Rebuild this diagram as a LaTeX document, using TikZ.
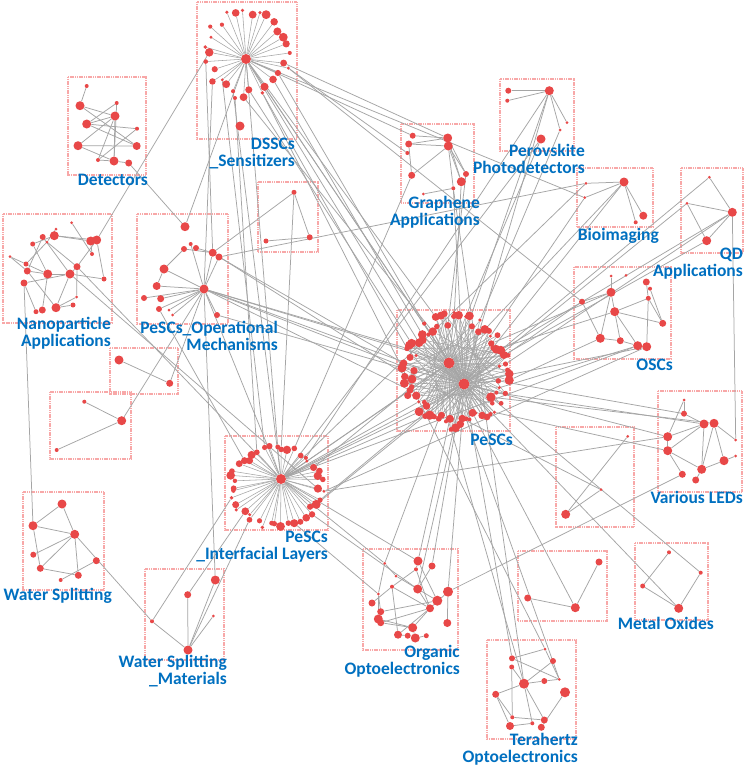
\documentclass[tikz,border=0pt]{standalone}
\usepackage{fontspec}
\newfontfamily\labfamily{Carlito}
\usetikzlibrary{backgrounds,calc}
\definecolor{dotred}{RGB}{232,72,72}
\definecolor{labblue}{RGB}{0,112,192}
\definecolor{boxred}{RGB}{248,168,168}
\definecolor{linkgray}{RGB}{165,165,165}

\begin{document}
\begin{tikzpicture}[x=1pt, y=-1pt,
    netdot/.style={circle, fill=dotred, inner sep=0pt, minimum size=#1},
    netdot/.default=5,
    link/.style={draw=linkgray, line width=0.75pt},
    spoke/.style={draw=linkgray, line width=0.55pt},
    clusterbox/.style={draw=boxred, line width=1.2pt, dash pattern=on 1.2pt off 0.6pt},
    lab/.style={font=\labfamily\bfseries\fontsize{17.5}{17}\selectfont, text=labblue,
                align=right, inner sep=0pt, anchor=base east}
]
    \useasboundingbox (0,0) rectangle (744,766);

    % Cluster frames
    \begin{pgfonlayer}{background}
    \fill[white] (0,0) rectangle (744,766);
    \foreach \xa/\ya/\xb/\yb in {197/2/297/139, 68/77/146/175, 401/124/474/203, 500/79/574/151,
        258/182/318/252, 577/168/653/227, 681/168/743/253, 3/214/112/323, 137/214/228/324,
        574/267/671/359, 397/310/510/431, 110/348/178/394, 50/392/131/459, 658/391/742/492,
        556/427/634/527, 225/436/328/530, 23/492/104/590, 145/569/224/660, 363/549/458/650,
        518/551/607/621, 635/543/708/620, 487/640/576/739}
        \draw[clusterbox] (\xa,\ya) rectangle (\xb,\yb);
    \end{pgfonlayer}

    % Radial clusters: DSSCs, PeSCs, interfacial layers
    \pgfmathsetseed{17}
    \node[netdot=10] (ds) at (246,59) {};
    \foreach \k in {1,...,30}{
        \pgfmathsetmacro\ang{12*\k+4*rand}
        \pgfmathsetmacro\rad{41+5*rand}
        \pgfmathsetmacro\sz{3+6*rnd}
        \node[netdot=\sz] (ds\k) at ($(247,53)+(\ang:\rad)$) {};
    }
    \node[netdot=9] (ds31) at (240,126) {};
    \node[netdot=4] (ds32) at (235,98) {};

    \node[netdot=11] (pe) at (449,363) {};
    \node[netdot=11] (pf) at (464,384) {};
    \foreach \k in {1,...,80}{
        \pgfmathsetmacro\ang{4.5*\k+2*rand}
        \pgfmathsetmacro\rad{1+0.13*rand}
        \pgfmathsetmacro\sz{3+6.5*rnd}
        \node[netdot=\sz] (pe\k) at ($(456,371)+({48*\rad*cos(\ang)},{52*\rad*sin(\ang)})$) {};
    }

    \node[netdot=10] (pi) at (281,479) {};
    \foreach \k in {1,...,44}{
        \pgfmathsetmacro\ang{8.18*\k+3*rand}
        \pgfmathsetmacro\rad{1+0.1*rand}
        \pgfmathsetmacro\sz{3+6*rnd}
        \node[netdot=\sz] (pi\k) at ($(276,487)+({44*\rad*cos(\ang)},{39*\rad*sin(\ang)})$) {};
    }

    % Small clusters
    \foreach \n/\x/\y/\s in {
        det1/86.7/86/4, det2/80/105.7/9, det3/116.7/103/4, det4/115/116/9, det5/86.7/124/9,
        det6/137/128.7/4, det7/78/145.7/9, det8/136.7/146/8, det9/98/160/4, det10/114/161/9,
        det11/128.7/163/7,
        gr1/412.7/135.7/6, gr2/408.7/144/7, gr3/407.3/153/4, gr4/447.7/138/9, gr5/448.3/146/9,
        gr6/411.7/175.3/7, gr7/466/174/6, gr8/461.3/181.7/9, gr9/453.3/188.3/4, gr10/423.3/194/3,
        pv1/508.3/90.7/6, pv2/507.3/100.7/4, pv3/549.3/90.7/9, pv4/567/122.7/3, pv5/560/130/3,
        pv6/541/139/9,
        sa1/294/192.3/5, sa2/266/241/5, sa3/309.7/237.3/6,
        bi1/586/183.3/3, bi2/584.7/197.7/3, bi3/624/182/9, bi4/643.3/215.7/8, bi5/635.7/222.3/4,
        qd1/709.3/177.3/3, qd2/687/203.3/3, qd3/732.3/212.3/9, qd4/706.7/240.7/9,
        np1/71.7/222.7/3, np2/56/229/3, np3/54.3/235.7/9, np4/42.7/237/6, np5/32.7/244/5,
        np6/47/242/3, np7/10/256.7/3, np8/26/264/5, np9/96.7/240/9, np10/90.7/241/9,
        np11/92/254/4, np12/27.3/271/7, np13/47.7/274/9, np14/70/274/9, np15/77/266.7/7,
        np16/24/283/7, np17/104/279/5, np18/76.7/297/3, np19/73/305/5, np20/56/307.7/9,
        np21/42.3/310/7, np22/36/311.7/5,
        po1/185/226.7/9, po2/190.7/244/4, po3/184/249/6, po4/196/248/6, po5/212.7/252.7/8,
        po6/219/257/7, po7/164/269/9, po8/204/289/9, po9/156.7/286/8, po10/144/298/6,
        po11/160.7/298.7/7, po12/159/309/6, po13/169/310/3, po14/172.7/315/3, po15/217/315/6,
        os1/611/276/3, os2/626/275.3/3, os3/646.3/282/7, os4/650/288.7/4, os5/611/292.3/9,
        os6/582/301.7/6, os7/648.3/298.3/5, os8/614.7/311.7/9, os9/662.7/323.3/7,
        os10/600.3/338.3/9, os11/620.3/340.7/7, os12/637.7/345.7/9, os13/646.7/346.7/9,
        sb1/119/360/9, sb2/169.7/383.3/7,
        sc1/84.3/401.7/4, sc2/121.7/420.7/9, sc3/56.7/450/4,
        vl1/684/400/3, vl2/684/413.7/6, vl3/704/424/9, vl4/714/423.3/9, vl5/667.7/436.7/9,
        vl6/735.7/440/3, vl7/667.7/450.7/9, vl8/735.7/456/3, vl9/724/460.7/9, vl10/701.7/469.3/9,
        vl11/682.3/474.3/7, vl12/695.7/480/7,
        sd1/627.7/436.3/3, sd2/601/489.7/3, sd3/565.7/514.3/9,
        ws1/62/504/9, ws2/33/525.7/9, ws3/74.7/534.3/9, ws4/33.3/554.7/6, ws5/96.3/560.7/7,
        ws6/40.3/568.3/7, ws7/78.3/575.3/7, ws8/60.7/580/4,
        wm1/215.3/580/9, wm2/187.7/594.7/7, wm3/213.3/616/3, wm4/152/621.3/4, wm5/188/650/9,
        og1/384.7/563.3/3, og2/418/561/9, og3/432/566/7, og4/416/569.3/4, og5/396/576/3,
        og6/392/586.7/4, og7/417.7/589/9, og8/448/591.7/10, og9/378.3/594/3, og10/437.3/600.7/10,
        og11/372/603/7, og12/430/608.3/8, og13/380.7/611.7/7, og14/378.3/619/9, og15/380.7/622.7/7,
        og16/447.3/623/8, og17/412.7/627.7/9, og18/398/634.7/8, og19/407.7/635.7/6,
        og20/415.3/638/9, og21/426.3/635.7/5,
        se1/599/562/7, se2/527.7/598/7, se3/575.3/607.7/9,
        mo1/669/552.3/4, mo2/700.7/572.7/4, mo3/642.7/586/5, mo4/678.7/608.3/9,
        th1/545/649/3, th2/512/658.3/6, th3/553/661/6, th4/511.7/667/5, th5/559.3/679.3/3,
        th6/524/683.7/10, th7/544.3/681/6, th8/565/692.3/10, th9/495.7/694.3/7, th10/512.3/717.3/4,
        th11/532.3/723.3/4, th12/544.3/720/7, th13/510/726/8, th14/541.3/727.3/7}
        \node[netdot=\s] (\n) at (\x,\y) {};

    \begin{pgfonlayer}{background}
    % spokes of the radial clusters
    \foreach \k in {1,...,30} \draw[spoke] (ds) -- (ds\k);
    \foreach \k in {1,...,80}{
        \draw[spoke] (pe) -- (pe\k);
        \draw[spoke] (pf) -- (pe\k);
    }
    \foreach \k in {1,5,...,77}{
        \pgfmathtruncatemacro\j{mod(\k+27,80)+1}
        \draw[spoke] (pe\k) -- (pe\j);
    }
    \foreach \k in {1,...,44} \draw[spoke] (pi) -- (pi\k);

    % links inside the small clusters
    \foreach \a/\b in {det1/det2, det2/det4, det3/det5, det4/det5, det4/det9, det4/det10,
        det5/det6, det5/det8, det6/det9, det7/det8, det7/det10, det3/det10, det2/det8,
        det9/det10, det10/det11, det4/det7,
        gr1/gr4, gr2/gr4, gr2/gr5, gr2/gr6, gr6/gr5, gr4/gr8, gr5/gr8, gr5/gr7, gr4/gr7,
        gr10/gr9, gr5/gr9,
        pv1/pv3, pv2/pv3, pv3/pv4, pv3/pv5,
        sa1/sa3, sa2/sa3,
        bi1/bi3, bi2/bi3, bi3/bi4, bi3/bi5,
        qd1/qd3, qd2/qd3, qd2/qd4, qd3/qd4,
        np3/np9, np3/np10, np2/np6, np4/np14, np5/np13, np6/np8, np7/np8, np7/np12,
        np8/np13, np9/np17, np10/np11, np12/np13, np13/np14, np14/np15, np15/np9, np3/np5,
        np12/np20, np13/np21, np14/np20, np16/np22, np16/np14, np15/np18, np18/np20,
        np19/np20, np4/np12, np1/np11, np6/np15, np14/np17,
        po7/po3, po7/po8, po8/po9, po8/po10, po8/po11, po8/po12, po8/po13, po8/po14,
        po8/po15, po8/po6, po8/po5, po7/po9, po3/po5, po4/po5, po2/po8,
        os1/os5, os6/os5, os5/os8, os3/os7, os7/os8, os7/os9, os8/os9, os8/os12, os8/os11,
        os10/os11, os11/os12, os4/os9, os5/os10, os7/os13, os6/os10,
        sb1/sb2, sc1/sc2, sc2/sc3,
        vl1/vl2, vl2/vl3, vl3/vl5, vl4/vl6, vl3/vl7, vl3/vl10, vl4/vl9, vl5/vl7, vl7/vl11,
        vl7/vl10, vl9/vl10, vl8/vl9, vl10/vl12, vl4/vl10, vl1/vl5,
        sd1/sd3, sd2/sd3,
        ws1/ws2, ws1/ws3, ws2/ws3, ws2/ws6, ws3/ws4, ws3/ws6, ws3/ws7, ws5/ws8, ws6/ws7,
        wm4/wm5, wm1/wm5, wm3/wm5, wm2/wm5,
        og1/og5, og2/og4, og4/og6, og5/og10, og6/og12, og7/og12, og9/og13, og11/og6,
        og12/og17, og12/og18, og12/og15, og13/og10, og14/og17, og15/og17, og16/og8,
        og17/og20, og20/og21, og18/og19, og7/og3, og9/og14, og6/og18, og4/og12, og1/og9,
        og2/og10, og8/og12,
        se2/se3, se1/se3,
        mo1/mo3, mo2/mo4, mo3/mo4,
        th2/th1, th4/th6, th1/th5, th6/th7, th7/th5, th9/th6, th9/th10, th4/th10, th6/th12,
        th10/th12, th11/th13, th8/th14, th9/th13, th6/th11, th3/th6, th2/th5}
        \draw[link] (\a) -- (\b);

    % links between the clusters
    \foreach \a/\b in {ds4/pe50, ds3/pe52, ds5/pf, ds/pe48, ds/pe55, ds6/pe45, ds/pf,
        ds7/pe47, ds8/pe53,
        ds/pi33, ds9/pi, ds11/pi31, ds32/pi30, ds12/po8, ds/po1, ds14/po5, ds15/np9,
        ds1/gr4, ds/gr1, ds2/os6, ds/bi2, ds6/th1, gr9/th6, det11/po1, np16/ws2,
        np14/pi44, np15/pi, sc2/po8, sb2/po8, ws3/wm4, wm1/po8, wm4/pi20, wm5/pi15,
        wm2/pi17, po8/pe, po8/pf, po8/pe40, po8/pe45, po5/pe38, po6/pe42, po8/pe35,
        po15/pe41, po8/pi, po12/pi27, pi/pe, pi/pf, pi/pe30, pi/pe32, pi/pe35, pi/pe28,
        pi3/pf, pi40/pe36, pi/og2, pi5/og7, pi/og1, sa1/pi34, sa1/po5, gr8/pe60,
        gr7/pe58, gr9/pf, gr3/ds2, gr6/pi36, pv6/pe62, pv3/pe64, pv3/pf, pv5/pe66,
        pv3/pi38, pv6/pi, bi3/pe68, bi3/pf, bi1/pi, bi2/pe70, po6/bi1, qd3/pe75, qd2/pf,
        qd1/pi2, qd3/pe78, qd4/pe76, qd3/vl6, os5/pe72, os6/pf, os10/pe2, os12/pe4,
        os13/pf, os8/pe74, os12/pi, os13/pi1, vl3/pe6, vl4/pe8, vl5/pf, vl7/pe10,
        vl2/pe3, vl11/og8, vl5/pi1, sd2/pe18, se3/pe15, mo4/pf, mo2/pe8, og2/pe22,
        og3/pe20, og8/pe18, og7/pf, og1/pe25, th6/pe21, th2/pf, th5/pe17, og9/pi8}
        \draw[link] (\a) -- (\b);
    \end{pgfonlayer}

    % Cluster labels (anchored at the baseline of the last line)
    \node[lab] (lbdssc) at (295,166) {DSSCs\\\_Sensitizers};
    \node[lab] (lbdet) at (148,185) {Detectors};
    \node[lab] (lbnano) at (111,346) {Nanoparticle\\Applications};
    \node[lab] (lbopmech) at (278,350) {PeSCs\_Operational\\Mechanisms};
    \node[lab] (lbgraph) at (480,225) {Graphene\\Applications};
    \node[lab] (lbperpd) at (585,173) {Perovskite\\Photodetectors};
    \node[lab] (lbbio) at (659,240) {Bioimaging};
    \node[lab] (lbqd) at (743,276) {QD\\Applications};
    \node[lab] (lbosc) at (673,370) {OSCs};
    \node[lab] (lbled) at (743,503) {Various LEDs};
    \node[lab] (lbpesc) at (513,445) {PeSCs};
    \node[lab] (lbinter) at (328,559) {PeSCs\\\_Interfacial Layers};
    \node[lab] (lbws) at (112,600) {Water Splitting};
    \node[lab] (lbwsmat) at (227,684) {Water Splitting\\\_Materials};
    \node[lab] (lborg) at (460,674) {Organic\\Optoelectronics};
    \node[lab] (lbmox) at (714,629) {Metal Oxides};
    \node[lab] (lbthz) at (578,762) {Terahertz\\Optoelectronics};
\end{tikzpicture}
\end{document}
